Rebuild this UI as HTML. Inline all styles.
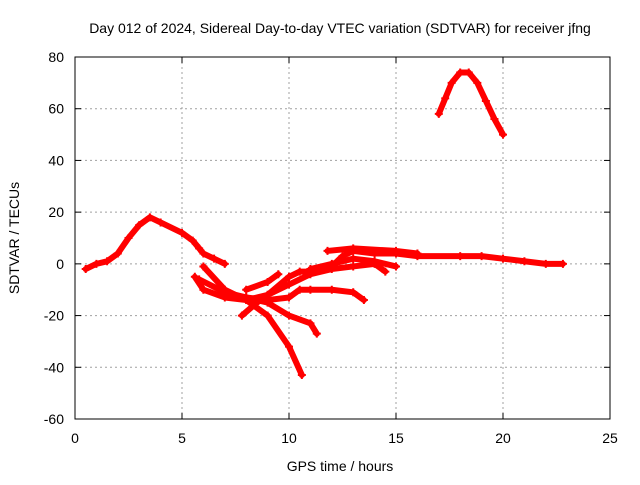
<!DOCTYPE html>
<html><head><meta charset="utf-8"><style>
body{margin:0;background:#fff;}
svg text{font-family:"Liberation Sans",sans-serif;font-size:14px;fill:#000;}
</style></head><body>
<svg id="chart" width="640" height="480">
<text x="340" y="33" text-anchor="middle">Day 012 of 2024, Sidereal Day-to-day VTEC variation (SDTVAR) for receiver jfng</text>
<text x="340" y="471" text-anchor="middle">GPS time / hours</text>
<text transform="translate(19,238) rotate(-90)" text-anchor="middle">SDTVAR / TECUs</text>
<g id="grid"></g><g id="marks"></g>
<rect x="75" y="57" width="535" height="362" fill="none" stroke="#000"/>
</svg>
<script>
const xTicks=[0,5,10,15,20,25];
const yTicks=[-60,-40,-20,0,20,40,60,80];
const s1=[[0.5,-2],[1,0],[1.5,1],[2,4],[2.5,10],[3,15],[3.5,18],[4,16],[5,12],[5.5,9],[5.8,6],[6,4],[6.5,2],[7,0]];
const s2=[[17,58],[17.3,64],[17.6,70],[18,74],[18.4,74],[18.8,70],[19.2,63],[19.6,56],[20,50]];
const s3=[[5.6,-5],[6,-10],[7,-13],[8,-14],[9,-12],[10,-5],[10.5,-3],[11,-3],[12,-1],[12.5,3],[13,5],[14,4],[15,4],[16,3],[18,3],[19,3],[20,2],[21,1],[22,0],[22.8,0]];
const s4=[[6,-1],[7,-10],[8,-14],[9,-20],[10,-32],[10.6,-43]];
const s5=[[5.8,-6],[7,-11],[8,-13],[9,-15],[10,-20],[11,-23],[11.3,-27]];
const s6=[[7.8,-20],[8.5,-15],[9,-12],[10,-8],[11,-4],[12,-2],[13,-1],[14,0],[14.5,-3]];
const s7=[[8,-13],[9,-14],[10,-13],[10.5,-10],[11,-10],[12,-10],[13,-11],[13.5,-14]];
const s8=[[8,-10],[9,-7],[9.5,-4]];
const s9=[[11,-2],[12,0],[13,2],[14,1],[15,-1]];
const s10=[[11.8,5],[13,6],[15,5],[16,4]];
const series=[s1,s2,s3,s4,s5,s6,s7,s8,s9,s10];
const X=v=>75+v*535/25, Y=v=>419-(v+60)*362/140;
const NS="http://www.w3.org/2000/svg";
const grid=document.getElementById('grid'), marks=document.getElementById('marks');
function mk(tag,attrs,parent){const e=document.createElementNS(NS,tag);for(const k in attrs)e.setAttribute(k,attrs[k]);parent.appendChild(e);return e;}
xTicks.forEach(t=>{
 if(t>0&&t<25){const l=mk('line',{x1:X(t),x2:X(t),y1:57,y2:419,stroke:'#a0a0a0','stroke-dasharray':'2,3'},grid);
 
 }
 mk('line',{x1:X(t),x2:X(t),y1:419,y2:413,stroke:'#000'},grid);
 mk('line',{x1:X(t),x2:X(t),y1:57,y2:63,stroke:'#000'},grid);
 const tx=mk('text',{x:X(t),y:443,'text-anchor':'middle'},grid);tx.textContent=t;
 
 
});
yTicks.forEach(t=>{
 if(t>-60&&t<80){const l=mk('line',{x1:75,x2:610,y1:Y(t),y2:Y(t),stroke:'#a0a0a0','stroke-dasharray':'2,3'},grid);
 
 }
 mk('line',{x1:75,x2:81,y1:Y(t),y2:Y(t),stroke:'#000'},grid);
 mk('line',{x1:610,x2:604,y1:Y(t),y2:Y(t),stroke:'#000'},grid);
 const tx=mk('text',{x:64,y:Y(t)+5,'text-anchor':'end'},grid);tx.textContent=t;
 
 
});
series.forEach((s,i)=>{
 const p=mk('polyline',{points:s.map(d=>X(d[0])+','+Y(d[1])).join(' '),fill:'none',stroke:'#f00','stroke-width':6,'stroke-linejoin':'round','stroke-linecap':'round'},marks);
 
 
 s.forEach(d=>{
  const m=mk('path',{d:`M${X(d[0])-4},${Y(d[1])}h8M${X(d[0])},${Y(d[1])-4}v8`,stroke:'#f00','stroke-width':2},marks);
  
  
 });
});
</script>
</body></html>
